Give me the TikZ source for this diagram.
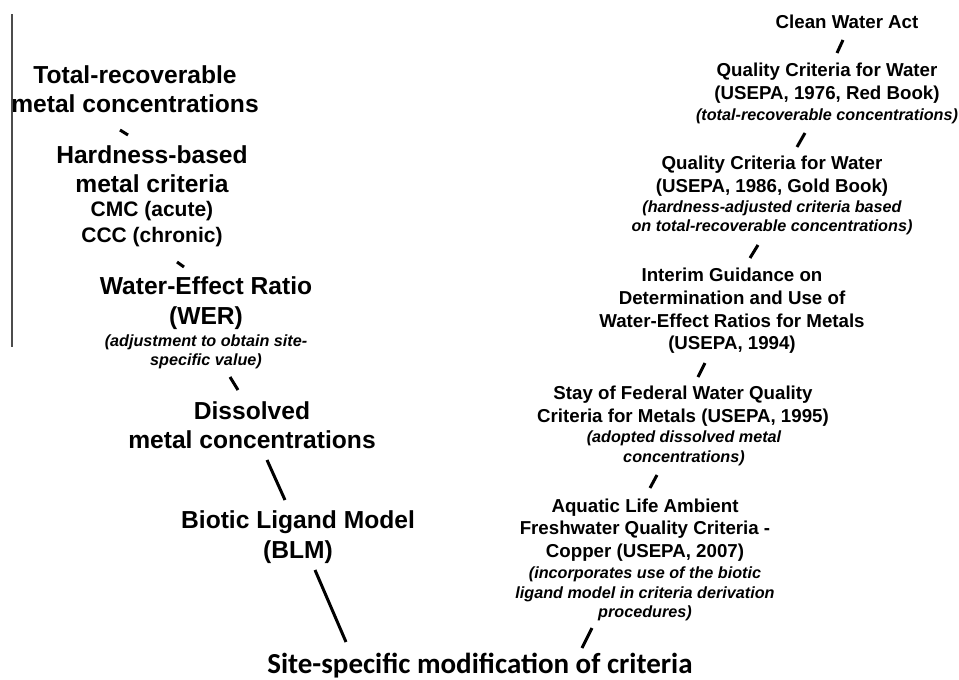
\documentclass[tikz,border=0pt]{standalone}
\usepackage{fontspec}
\setmainfont{Liberation Sans}
\newfontfamily\calib{Carlito}
\usetikzlibrary{positioning}

\begin{document}
\begin{tikzpicture}[x=1pt,y=-1pt,inner sep=0pt,align=center,
  big/.style={font=\bfseries\fontsize{24.6}{29.5}\selectfont},
  mid/.style={font=\bfseries\fontsize{21}{26}\selectfont},
  law/.style={font=\bfseries\fontsize{18.7}{22.7}\selectfont},
  note/.style={font=\bfseries\itshape\fontsize{16.2}{19.5}\selectfont},
  tick/.style={line width=3pt}]

  \useasboundingbox (0,0) rectangle (959,680);
  \draw[line width=1.2pt, black!70] (12,14) -- (12,347);

  % left branch
  \node[big] (tr) at (135,89) {Total-recoverable\\metal concentrations};
  \node[big] (hb) at (152,169) {Hardness-based\\metal criteria};
  \node[mid] (cmc) at (152,224) {CMC (acute)\\CCC (chronic)};
  \node[big] (wer) at (206,303) {Water-Effect Ratio\\(WER)};
  \node[note] (wern) at (206,352) {(adjustment to obtain site-\\specific value)};
  \node[big] (dis) at (252,425) {Dissolved\\metal concentrations};
  \node[big] (blm) at (298,537) {Biotic Ligand Model\\(BLM)};
  \node[font=\calib\bfseries\fontsize{29}{34}\selectfont] (site) at (480,666) {Site-specific modification of criteria};

  % right branch
  \node[law] (cwa) at (847,22) {Clean Water Act};
  \node[law] (red) at (827,83.5) {Quality Criteria for Water\\(USEPA, 1976, Red Book)};
  \node[note] (redn) at (827,116) {(total-recoverable concentrations)};
  \node[law] (gold) at (772,176) {Quality Criteria for Water\\(USEPA, 1986, Gold Book)};
  \node[note] (goldn) at (772,218) {(hardness-adjusted criteria based\\on total-recoverable concentrations)};
  \node[law] (wr) at (732,311) {Interim Guidance on\\Determination and Use of\\Water-Effect Ratios for Metals\\(USEPA, 1994)};
  \node[law] (stay) at (683,406.5) {Stay of Federal Water Quality\\Criteria for Metals (USEPA, 1995)};
  \node[note] (stayn) at (684,448.5) {(adopted dissolved metal\\concentrations)};
  \node[law] (aq) at (645,530) {Aquatic Life Ambient\\Freshwater Quality Criteria -\\Copper (USEPA, 2007)};
  \node[note] (aqn) at (645,594) {(incorporates use of the biotic\\ligand model in criteria derivation\\procedures)};

  \path[tick]
    ([shift={(-15,41)}]tr.center) edge ([shift={(-24,-34)}]hb.center)
    ([shift={(25,38)}]cmc.center) edge ([shift={(-22,-36)}]wer.center)
    ([shift={(24,25)}]wern.center) edge ([shift={(-14,-35)}]dis.center)
    ([shift={(15,35)}]dis.center) edge ([shift={(-13,-37)}]blm.center)
    ([shift={(17,33)}]blm.center) edge ([shift={(-134,-24)}]site.center);

  \path[tick]
    ([shift={(-4,18)}]cwa.center) edge ([shift={(10,-30.5)}]red.center)
    ([shift={(-22,17)}]redn.center) edge ([shift={(25,-29)}]gold.center)
    ([shift={(-14,27)}]goldn.center) edge ([shift={(18,-53)}]wr.center)
    ([shift={(-27,52)}]wr.center) edge ([shift={(15,-29.5)}]stay.center)
    ([shift={(-27,26.5)}]stayn.center) edge ([shift={(5,-42)}]aq.center)
    ([shift={(-53,34)}]aqn.center) edge ([shift={(102,-18)}]site.center);

\end{tikzpicture}
\end{document}
